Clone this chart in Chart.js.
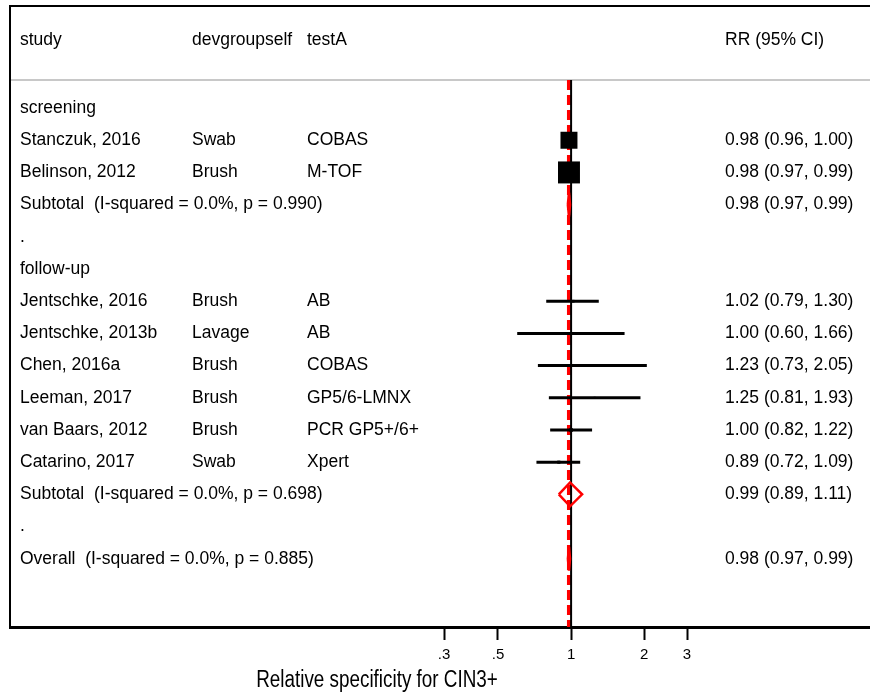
<!DOCTYPE html>
<html>
<head>
<meta charset="utf-8">
<script src="https://cdn.jsdelivr.net/npm/chart.js@4/dist/chart.umd.min.js"></script>
<style>
  html, body { margin: 0; padding: 0; background: #fff; }
  canvas { display: block; }
</style>
</head>
<body>
<canvas id="forest" width="870" height="700"></canvas>
<script>
// ---- data ----
const studies  = ["Stanczuk, 2016", "Belinson, 2012", "Jentschke, 2016", "Jentschke, 2013b",
                  "Chen, 2016a", "Leeman, 2017", "van Baars, 2012", "Catarino, 2017"];
const devices  = ["Swab", "Brush", "Brush", "Lavage", "Brush", "Brush", "Brush", "Swab"];
const tests    = ["COBAS", "M-TOF", "AB", "AB", "COBAS", "GP5/6-LMNX", "PCR GP5+/6+", "Xpert"];
const studyRows = [1, 2, 6, 7, 8, 9, 10, 11];
const rr       = [0.98, 0.98, 1.02, 1.00, 1.23, 1.25, 1.00, 0.89];
const lower    = [0.96, 0.97, 0.79, 0.60, 0.73, 0.81, 0.82, 0.72];
const upper    = [1.00, 0.99, 1.30, 1.66, 2.05, 1.93, 1.22, 1.09];
const weights  = [35.5, 59.5, 0.9, 0.4, 0.4, 0.5, 1.6, 1.2];

const summaryLabels = ["Subtotal  (I-squared = 0.0%, p = 0.990)",
                       "Subtotal  (I-squared = 0.0%, p = 0.698)",
                       "Overall  (I-squared = 0.0%, p = 0.885)"];
const summaryRows  = [3, 12, 14];
const summaryRR    = [0.98, 0.99, 0.98];
const summaryLower = [0.97, 0.89, 0.97];
const summaryUpper = [0.99, 1.11, 0.99];

const groupLabels = ["screening", ".", "follow-up", "."];
const groupRows   = [0, 4, 5, 13];

const headerLabels = ["study", "devgroupself", "testA", "RR (95% CI)"];
const tickValues = [0.3, 0.5, 1, 2, 3];
const tickLabels = [".3", ".5", "1", "2", "3"];
const axisTitle  = "Relative specificity for CIN3+";

// ---- layout ----
const colX = [20, 192, 307, 725];   // text column positions
const headerRow = -2.1;             // header line (row units)
const ruleRow = -0.87;              // rule under the header
const yMin = -3.17, yMax = 16.12;   // vertical extent of the plot box
const xMin = 0.0049, xMax = 17.0;   // horizontal extent (log scale)
const textFont = '17.5px "Liberation Sans", Arial, sans-serif';
const overallRR = summaryRR[summaryRR.length - 1];
const boxScale = 2.85;              // box side = boxScale * sqrt(weight)
const titleCenterX = 377, titleY = 681;

const fmt = (e, l, u) => `${e.toFixed(2)} (${l.toFixed(2)}, ${u.toFixed(2)})`;

// ---- datasets ----
const datasets = [];

// overall estimate: red dashed line
datasets.push({
  data: [{x: overallRR, y: ruleRow}, {x: overallRR, y: yMax}],
  showLine: true, borderColor: '#ff0000', borderWidth: 4, borderDash: [10, 5],
  pointRadius: 0, order: 10
});
// line of no effect
datasets.push({
  data: [{x: 1, y: ruleRow}, {x: 1, y: yMax}],
  showLine: true, borderColor: '#000000', borderWidth: 2,
  pointRadius: 0, order: 9
});
// confidence intervals
studies.forEach((s, i) => {
  datasets.push({
    data: [{x: lower[i], y: studyRows[i]}, {x: upper[i], y: studyRows[i]}],
    showLine: true, borderColor: '#000000', borderWidth: 3,
    pointRadius: 0, order: 5
  });
});
// pooled estimates as diamonds
const halfH = 0.37;
summaryRows.forEach((r, i) => {
  datasets.push({
    data: [
      {x: summaryLower[i], y: r},
      {x: summaryRR[i], y: r - halfH},
      {x: summaryUpper[i], y: r},
      {x: summaryRR[i], y: r + halfH},
      {x: summaryLower[i], y: r}
    ],
    showLine: true, borderColor: '#ff0000', borderWidth: 2.5, tension: 0,
    borderJoinStyle: 'miter', pointRadius: 0, order: 4
  });
});
// study boxes sized by weight
datasets.push({
  data: studies.map((s, i) => ({x: rr[i], y: studyRows[i]})),
  showLine: false, pointStyle: 'rect',
  backgroundColor: '#000000', borderWidth: 0, pointBorderWidth: 0,
  pointRadius: ctx => (boxScale * Math.sqrt(weights[ctx.dataIndex])) / (2 * Math.SQRT1_2),
  order: 1
});

// ---- frame, text columns and axis title ----
const forestText = {
  id: 'forestText',
  beforeDatasetsDraw(chart) {
    const {ctx, chartArea: a, scales: {y}} = chart;
    ctx.save();
    // rule under the header
    ctx.strokeStyle = '#c8c8c8';
    ctx.lineWidth = 2;
    ctx.beginPath();
    ctx.moveTo(a.left, y.getPixelForValue(ruleRow));
    ctx.lineTo(a.right, y.getPixelForValue(ruleRow));
    ctx.stroke();
    // top and left edges of the box
    ctx.strokeStyle = '#000000';
    ctx.lineWidth = 2;
    ctx.beginPath();
    ctx.moveTo(a.right, a.top);
    ctx.lineTo(a.left, a.top);
    ctx.lineTo(a.left, a.bottom);
    ctx.stroke();
    ctx.restore();
  },
  afterDatasetsDraw(chart) {
    const {ctx, scales: {y}} = chart;
    ctx.save();
    ctx.font = textFont;
    ctx.fillStyle = '#000000';
    ctx.textBaseline = 'middle';
    ctx.textAlign = 'left';
    const hy = y.getPixelForValue(headerRow);
    headerLabels.forEach((t, i) => ctx.fillText(t, colX[i], hy));
    groupLabels.forEach((t, i) => ctx.fillText(t, colX[0], y.getPixelForValue(groupRows[i])));
    studies.forEach((s, i) => {
      const py = y.getPixelForValue(studyRows[i]);
      ctx.fillText(s, colX[0], py);
      ctx.fillText(devices[i], colX[1], py);
      ctx.fillText(tests[i], colX[2], py);
      ctx.fillText(fmt(rr[i], lower[i], upper[i]), colX[3], py);
    });
    summaryLabels.forEach((s, i) => {
      const py = y.getPixelForValue(summaryRows[i]);
      ctx.fillText(s, colX[0], py);
      ctx.fillText(fmt(summaryRR[i], summaryLower[i], summaryUpper[i]), colX[3], py);
    });
    ctx.restore();
  },
  afterDraw(chart) {
    const {ctx} = chart;
    ctx.save();
    ctx.translate(titleCenterX, titleY);
    ctx.scale(0.82, 1);
    ctx.font = '23px "Liberation Sans", Arial, sans-serif';
    ctx.fillStyle = '#000000';
    ctx.textAlign = 'center';
    ctx.textBaseline = 'middle';
    ctx.fillText(axisTitle, 0, 0);
    ctx.restore();
  }
};

Chart.defaults.font.family = '"Liberation Sans", Arial, sans-serif';
Chart.defaults.color = '#000000';

new Chart(document.getElementById('forest'), {
  type: 'scatter',
  data: { datasets },
  plugins: [forestText],
  options: {
    responsive: false,
    animation: false,
    devicePixelRatio: 1,
    layout: { autoPadding: false, padding: { left: 10, right: 0, top: 6, bottom: 0 } },
    plugins: { legend: { display: false }, tooltip: { enabled: false } },
    scales: {
      x: {
        type: 'logarithmic',
        min: xMin, max: xMax, bounds: 'data',
        afterBuildTicks: scale => { scale.ticks = tickValues.map(v => ({value: v})); },
        afterFit: scale => { scale.height = 73; },
        ticks: {
          autoSkip: false, maxRotation: 0, padding: 6,
          font: { size: 15 },
          callback: (v) => tickLabels[tickValues.indexOf(v)] ?? ''
        },
        grid: { drawOnChartArea: false, drawTicks: true, tickLength: 13, tickWidth: 2, color: '#000000' },
        border: { display: true, width: 3, color: '#000000' },
        title: { display: false }
      },
      y: {
        type: 'linear', reverse: true, min: yMin, max: yMax, display: false
      }
    }
  }
});
</script>
</body>
</html>
